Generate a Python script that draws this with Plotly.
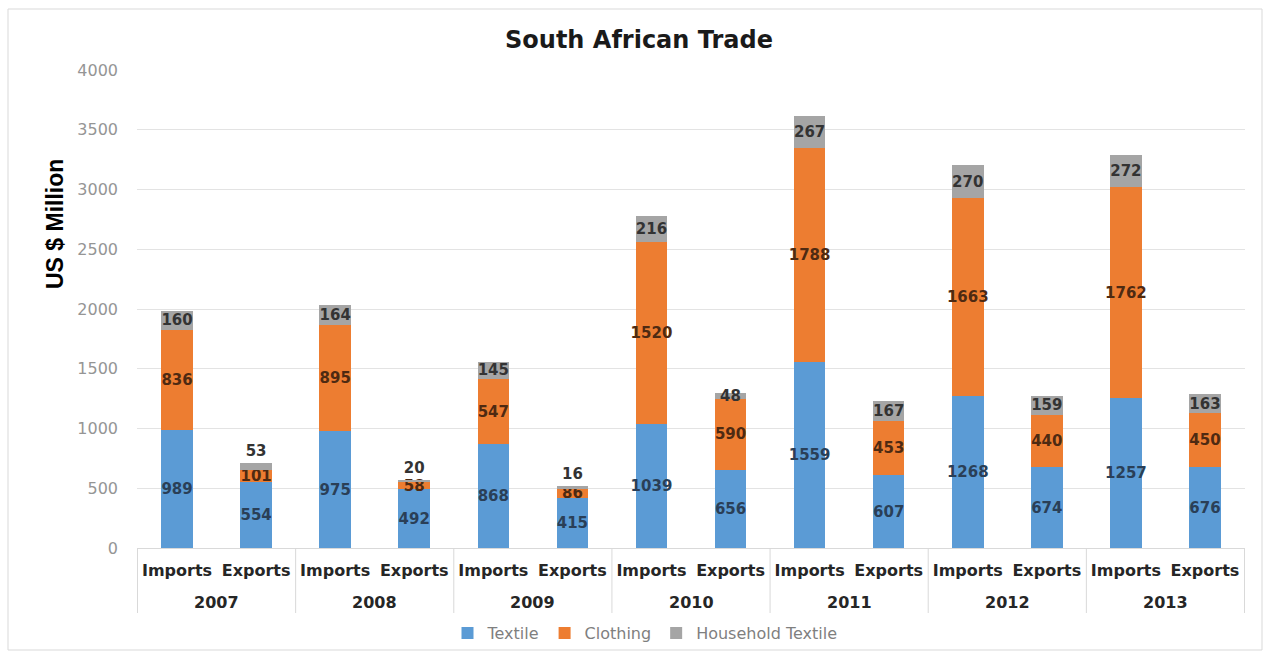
import plotly.graph_objects as go

# South African textile trade, US$ million
years = ["2007", "2008", "2009", "2010", "2011", "2012", "2013"]
flows = ["Imports", "Exports"]

textile = [989, 554, 975, 492, 868, 415, 1039, 656, 1559, 607, 1268, 674, 1257, 676]
clothing = [836, 101, 895, 58, 547, 86, 1520, 590, 1788, 453, 1663, 440, 1762, 450]
household = [160, 53, 164, 20, 145, 16, 216, 48, 267, 167, 270, 159, 272, 163]

y_ticks = [0, 500, 1000, 1500, 2000, 2500, 3000, 3500, 4000]

# one category per (year, flow) pair; the flow is the tick label, the year sits below
categories = [f"{y} {f}" for y in years for f in flows]
tick_text = [f for _ in years for f in flows]

FONT = "DejaVu Sans"
label_size = 15

# tiny household segments on the small export bars carry their label above the stack
household_pos = ["outside" if (i % 2 == 1 and textile[i] + clothing[i] < 700) else "inside"
                 for i in range(len(household))]

series = [
    ("Textile", textile, "#5b9bd5", "#2a3f57", ["inside"] * len(textile)),
    ("Clothing", clothing, "#ed7d31", "#4e2a12", ["inside"] * len(clothing)),
    ("Household Textile", household, "#a5a5a5", "#333333", household_pos),
]

fig = go.Figure()
for name, vals, color, tcolor, pos in series:
    fig.add_trace(go.Bar(
        name=name,
        x=categories,
        y=vals,
        marker=dict(color=color, line=dict(width=0)),
        text=[str(v) for v in vals],
        texttemplate="%{text}",
        textposition=pos,
        insidetextanchor="middle",
        textangle=0,
        constraintext="none",
        textfont=dict(family=FONT, size=label_size, color=tcolor, weight="bold"),
        outsidetextfont=dict(family=FONT, size=label_size, color=tcolor, weight="bold"),
        cliponaxis=False,
        hovertemplate="%{x}<br>" + name + ": %{y}<extra></extra>",
    ))

L, R, T, B = 137, 23, 70, 105
W, H = 1268, 653
pw, ph = W - L - R, H - T - B

def px_x(p):
    return (p - L) / pw

def px_y(p):
    return (H - B - p) / ph

# year group dividers below the axis, on the category boundaries
n_groups = len(years)
group_size = len(flows)
shapes = [
    dict(type="line", xref="x", yref="paper",
         x0=g * group_size - 0.5, x1=g * group_size - 0.5,
         y0=0, y1=px_y(613),
         line=dict(color="#d9d9d9", width=1))
    for g in range(n_groups + 1)
]
# outer chart frame
shapes.append(dict(type="rect", xref="paper", yref="paper",
                   x0=px_x(8), x1=px_x(1262), y0=px_y(650), y1=px_y(9),
                   line=dict(color="#d9d9d9", width=1), fillcolor="rgba(0,0,0,0)",
                   layer="below"))

annotations = [
    dict(text=f"<b>{yr}</b>", xref="x", yref="paper",
         x=g * group_size + (group_size - 1) / 2, y=px_y(602),
         xanchor="center", yanchor="middle", showarrow=False,
         font=dict(family=FONT, size=16, color="#262626"))
    for g, yr in enumerate(years)
]
annotations.append(dict(
    text="<b>US $ Million</b>", textangle=-90,
    xref="paper", yref="paper",
    x=px_x(55), y=px_y(224), xanchor="center", yanchor="middle",
    showarrow=False,
    font=dict(family="Liberation Sans", size=23, color="#000000"),
))

fig.update_layout(
    width=W,
    height=H,
    barmode="stack",
    bargap=0.6,
    paper_bgcolor="white",
    plot_bgcolor="white",
    margin=dict(l=L, r=R, t=T, b=B, autoexpand=False),
    uniformtext=dict(mode="show", minsize=label_size),
    title=dict(
        text="<b>South African Trade</b>",
        font=dict(family=FONT, size=24, color="#1a1a1a"),
        xref="container", yref="container",
        x=639 / W, xanchor="center",
        y=1 - 40 / H, yanchor="middle",
    ),
    legend=dict(
        orientation="h",
        xref="container", yref="container",
        x=645 / W, xanchor="center",
        y=1 - 633 / H, yanchor="middle",
        bgcolor="rgba(0,0,0,0)",
        font=dict(family=FONT, size=16, color="#7f7f7f"),
        itemwidth=30,
        traceorder="normal",
    ),
    xaxis=dict(
        type="category",
        automargin=False,
        tickvals=categories,
        ticktext=tick_text,
        showline=True,
        linecolor="#d9d9d9",
        linewidth=1,
        showgrid=False,
        ticks="",
        ticklabelstandoff=8,
        tickfont=dict(family=FONT, size=16, color="#262626", weight="bold"),
    ),
    yaxis=dict(
        automargin=False,
        range=[0, 4000],
        tickvals=y_ticks,
        showgrid=True,
        gridcolor="#e3e3e3",
        gridwidth=1,
        zeroline=False,
        showline=False,
        ticks="",
        ticklabelstandoff=18,
        tickfont=dict(family=FONT, size=16, color="#959595"),
    ),
    shapes=shapes,
    annotations=annotations,
)

fig.write_html("out.html")
